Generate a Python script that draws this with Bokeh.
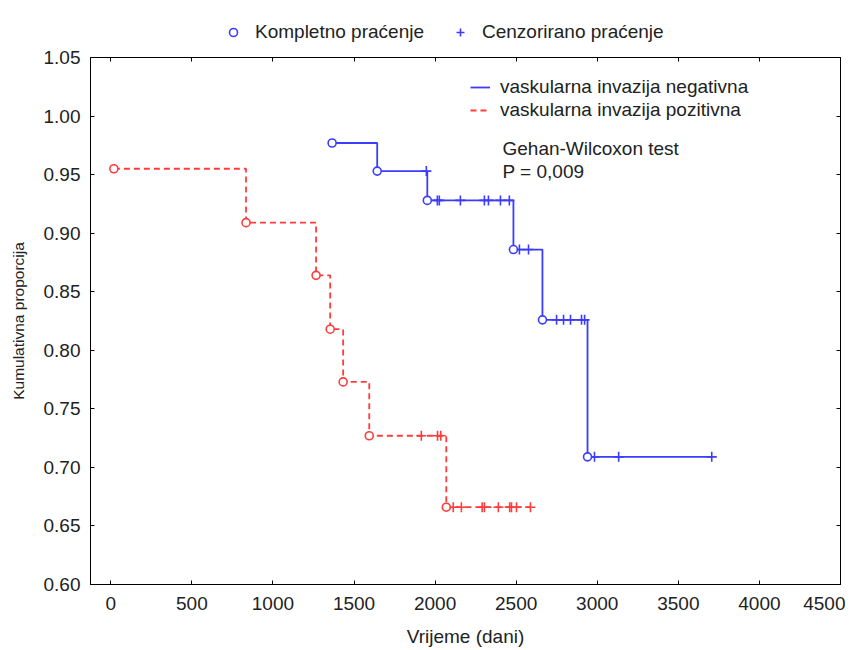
from bokeh.plotting import figure
from bokeh.layouts import column
from bokeh.models import (Legend, LegendItem, LinearAxis, Label, FixedTicker,
                          CustomJSTickFormatter, NumeralTickFormatter, Range1d)
from bokeh.embed import file_html
from bokeh.resources import INLINE

# ---------------- data ----------------
neg_event_t = [1365, 1643, 1952, 2483, 2662, 2940]
neg_surv = [0.977, 0.953, 0.928, 0.886, 0.826, 0.709]
neg_cens_t = [1946, 2014, 2026, 2156, 2304, 2329, 2403, 2458, 2520, 2576,
              2749, 2792, 2835, 2903, 2922, 2983, 3132, 3706]

pos_event_t = [19, 834, 1266, 1353, 1433, 1594, 2069]
pos_surv = [0.955, 0.909, 0.864, 0.818, 0.773, 0.727, 0.666]
pos_cens_t = [1915, 2015, 2035, 2112, 2162, 2290, 2304, 2390, 2460, 2471,
              2502, 2588]

x_ticks = [0, 500, 1000, 1500, 2000, 2500, 3000, 3500, 4000, 4500]
y_ticks = [0.60, 0.65, 0.70, 0.75, 0.80, 0.85, 0.90, 0.95, 1.00, 1.05]

neg_label = "vaskularna invazija negativna"
pos_label = "vaskularna invazija pozitivna"
complete_label = "Kompletno praćenje"
censored_label = "Cenzorirano praćenje"
x_title = "Vrijeme (dani)"
y_title = "Kumulativna proporcija"
test_lines = ["Gehan-Wilcoxon test", "P = 0,009"]

BLUE = "#3c3cff"
RED = "#ff3c3c"
TXT = "#222222"
FONT = "Liberation Sans"
FS = "19px"
TOP_H = 45


def level_at(t, ev_t, surv):
    s = None
    for et, sv in zip(ev_t, surv):
        if et <= t:
            s = sv
    return s if s is not None else surv[0]


def km_path(ev_t, surv, cens_t):
    xs = list(ev_t) + [max(cens_t)]
    ys = list(surv) + [surv[-1]]
    return xs, ys


p = figure(frame_width=750, frame_height=527, output_backend="svg",
           toolbar_location=None, x_range=Range1d(-125, 4500),
           y_range=Range1d(0.60, 1.05), min_border_left=90,
           min_border_top=57 - TOP_H, min_border_right=5, min_border_bottom=62)
p.xgrid.visible = False
p.ygrid.visible = False
p.outline_line_color = "black"
p.outline_line_width = 1
p.background_fill_color = "white"
p.border_fill_color = "white"

# KM curves
nx, ny = km_path(neg_event_t, neg_surv, neg_cens_t)
px_, py_ = km_path(pos_event_t, pos_surv, pos_cens_t)
neg_line = p.step(nx, ny, mode="after", line_color=BLUE, line_width=1.8)
pos_line = p.step(px_, py_, mode="after", line_color=RED, line_width=1.8,
                  line_dash="6 4")

# censored marks
neg_cy = [level_at(t, neg_event_t, neg_surv) for t in neg_cens_t]
pos_cy = [level_at(t, pos_event_t, pos_surv) for t in pos_cens_t]
p.scatter(neg_cens_t, neg_cy, marker="cross", size=10,
          line_color=BLUE, line_width=1.6)
p.scatter(pos_cens_t, pos_cy, marker="cross", size=10,
          line_color=RED, line_width=1.6)

# complete (event) marks
p.scatter(neg_event_t, neg_surv, marker="circle", size=8,
          fill_color="white", line_color=BLUE, line_width=1.6)
p.scatter(pos_event_t, pos_surv, marker="circle", size=8,
          fill_color="white", line_color=RED, line_width=1.6)

# axes
for ax, ticks in ((p.xaxis[0], x_ticks), (p.yaxis[0], y_ticks)):
    ax.ticker = FixedTicker(ticks=ticks)
    ax.major_tick_in = 4
    ax.major_tick_out = 0
    ax.minor_tick_line_color = None
    ax.axis_line_color = "black"
    ax.major_tick_line_color = "black"
    ax.major_label_text_font = FONT
    ax.major_label_text_font_size = FS
    ax.major_label_text_color = TXT
    ax.axis_label_text_font = FONT
    ax.axis_label_text_font_style = "normal"
    ax.axis_label_text_color = TXT

p.xaxis.major_label_standoff = 12
p.yaxis.major_label_standoff = 10
p.xaxis.axis_label = x_title
p.xaxis.axis_label_text_font_size = FS
p.xaxis.axis_label_standoff = 13
p.yaxis.axis_label = y_title
p.yaxis.axis_label_text_font_size = "15.5px"
p.yaxis.axis_label_standoff = 14
p.yaxis.formatter = NumeralTickFormatter(format="0.00")

blank = CustomJSTickFormatter(code="return ''")
top_ax = LinearAxis(ticker=FixedTicker(ticks=x_ticks), formatter=blank,
                    major_tick_in=4, major_tick_out=0, minor_tick_line_color=None,
                    major_label_standoff=0)
right_ax = LinearAxis(ticker=FixedTicker(ticks=y_ticks), formatter=blank,
                      major_tick_in=4, major_tick_out=0, minor_tick_line_color=None,
                      major_label_standoff=0)
p.add_layout(top_ax, "above")
p.add_layout(right_ax, "right")

# inner legend (lines)
leg_in = Legend(items=[LegendItem(label=neg_label, renderers=[neg_line]),
                       LegendItem(label=pos_label, renderers=[pos_line])],
                location=(380, 463), padding=0, margin=0, spacing=1,
                glyph_width=20, glyph_height=18, label_height=18,
                label_standoff=10, border_line_color=None,
                background_fill_alpha=0, label_text_font=FONT,
                label_text_font_size=FS, label_text_color=TXT)
p.add_layout(leg_in)

# test annotation
for i, txt in enumerate(test_lines):
    p.add_layout(Label(x=412, y=436 - 23 * i, x_units="screen", y_units="screen",
                       text=txt, text_font=FONT, text_font_size=FS,
                       text_color=TXT, text_baseline="middle"))

# ---------------- top strip with the marker legend ----------------
# the key glyphs reuse the data but lie outside this strip's y-range (hidden);
# only their legend entries are shown
top = figure(width=850, height=TOP_H, output_backend="svg", toolbar_location=None,
             x_range=Range1d(-125, 4500), y_range=Range1d(2, 3),
             x_axis_location=None, y_axis_location=None, min_border=0)
top.xgrid.visible = False
top.ygrid.visible = False
top.outline_line_color = None
top.border_fill_color = "white"
top.background_fill_color = "white"
key_circ = top.scatter(neg_event_t, neg_surv, marker="circle", size=8,
                       fill_color="white", line_color=BLUE, line_width=1.6)
key_cross = top.scatter(neg_cens_t, neg_cy, marker="cross", size=10,
                        line_color=BLUE, line_width=1.6)
leg_top = Legend(items=[LegendItem(label=complete_label, renderers=[key_circ]),
                        LegendItem(label=censored_label, renderers=[key_cross])],
                 location=(133, 2), orientation="horizontal", padding=0,
                 margin=0, spacing=26, glyph_width=20, glyph_height=20,
                 label_height=20, label_standoff=12, border_line_color=None,
                 background_fill_alpha=0, label_text_font=FONT,
                 label_text_font_size=FS, label_text_color=TXT)
top.add_layout(leg_top)

open("out.html", "w").write(file_html(column(top, p, spacing=0), INLINE))
